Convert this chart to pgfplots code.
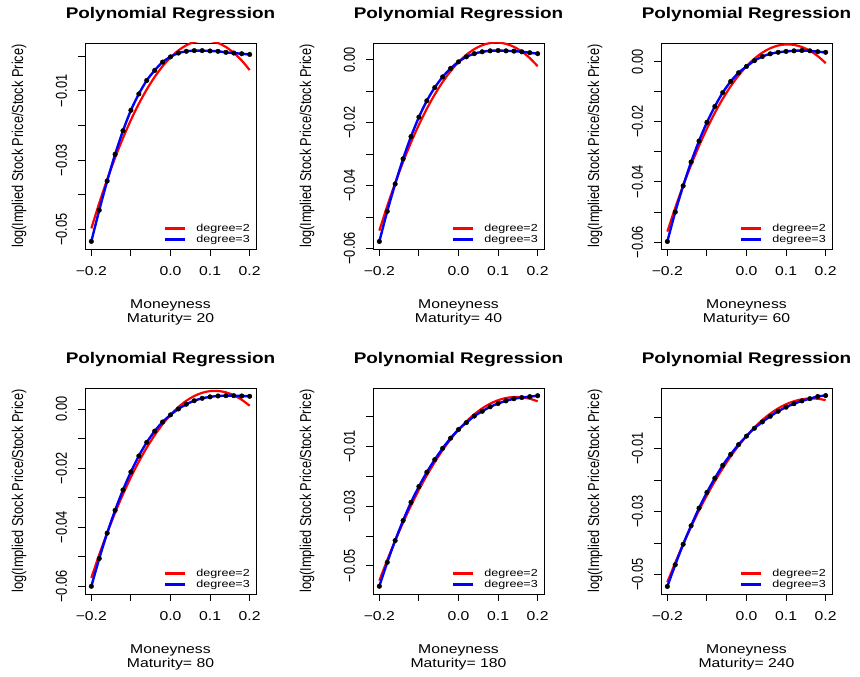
\documentclass[border=0pt]{standalone}
\usepackage{fontspec}
\setmainfont{Liberation Sans}
\usepackage{graphicx}
\usepackage{pgfplots}
\usepackage{pgfplotstable}
\pgfplotsset{compat=1.18}

% the reference is stretched sideways, so stretch horizontal text a little
\newcommand\hs[1]{\scalebox{1.23}[1]{#1}}
\newcommand\vs[1]{\scalebox{1}[1.23]{#1}}
\newcommand\basefont{\fontsize{12.8}{14}\selectfont}

\pgfplotstableread{
x y r
-0.20 -0.0534 -0.04967
-0.18 -0.0444 -0.04236
-0.16 -0.0360 -0.03557
-0.14 -0.0283 -0.02932
-0.12 -0.0215 -0.02359
-0.10 -0.0156 -0.01840
-0.08 -0.0109 -0.01373
-0.06 -0.0070 -0.00960
-0.04 -0.0041 -0.00599
-0.02 -0.0017 -0.00291
0.00 -0.0002 -0.00036
0.02 0.0009 0.00165
0.04 0.0014 0.00314
0.06 0.0016 0.00410
0.08 0.0016 0.00453
0.10 0.0015 0.00443
0.12 0.0014 0.00380
0.14 0.0011 0.00264
0.16 0.0009 0.00096
0.18 0.0007 -0.00126
0.20 0.0005 -0.00401
}\tabA
\pgfplotstableread{
x y r
-0.20 -0.0578 -0.05435
-0.18 -0.0482 -0.04651
-0.16 -0.0395 -0.03922
-0.14 -0.0315 -0.03248
-0.12 -0.0244 -0.02628
-0.10 -0.0182 -0.02064
-0.08 -0.0130 -0.01555
-0.06 -0.0088 -0.01101
-0.04 -0.0054 -0.00702
-0.02 -0.0027 -0.00358
0.00 -0.0006 -0.00068
0.02 0.0010 0.00166
0.04 0.0020 0.00345
0.06 0.0026 0.00470
0.08 0.0029 0.00539
0.10 0.0030 0.00553
0.12 0.0029 0.00513
0.14 0.0028 0.00417
0.16 0.0026 0.00267
0.18 0.0023 0.00061
0.20 0.0020 -0.00200
}\tabB
\pgfplotstableread{
x y r
-0.20 -0.0598 -0.05651
-0.18 -0.0500 -0.04859
-0.16 -0.0413 -0.04120
-0.14 -0.0334 -0.03435
-0.12 -0.0264 -0.02805
-0.10 -0.0202 -0.02228
-0.08 -0.0149 -0.01705
-0.06 -0.0103 -0.01236
-0.04 -0.0066 -0.00821
-0.02 -0.0037 -0.00460
0.00 -0.0016 -0.00153
0.02 0.0003 0.00100
0.04 0.0017 0.00299
0.06 0.0026 0.00445
0.08 0.0031 0.00536
0.10 0.0034 0.00573
0.12 0.0036 0.00557
0.14 0.0037 0.00486
0.16 0.0036 0.00362
0.18 0.0033 0.00184
0.20 0.0031 -0.00049
}\tabC
\pgfplotstableread{
x y r
-0.20 -0.0600 -0.05715
-0.18 -0.0506 -0.04929
-0.16 -0.0420 -0.04196
-0.14 -0.0343 -0.03514
-0.12 -0.0274 -0.02885
-0.10 -0.0213 -0.02307
-0.08 -0.0159 -0.01782
-0.06 -0.0113 -0.01308
-0.04 -0.0075 -0.00887
-0.02 -0.0044 -0.00517
0.00 -0.0020 -0.00200
0.02 0.0000 0.00065
0.04 0.0016 0.00278
0.06 0.0028 0.00439
0.08 0.0036 0.00548
0.10 0.0041 0.00605
0.12 0.0044 0.00610
0.14 0.0045 0.00563
0.16 0.0045 0.00464
0.18 0.0044 0.00312
0.20 0.0043 0.00109
}\tabD
\pgfplotstableread{
x y r
-0.20 -0.0568 -0.05494
-0.18 -0.0488 -0.04804
-0.16 -0.0415 -0.04154
-0.14 -0.0348 -0.03546
-0.12 -0.0287 -0.02979
-0.10 -0.0234 -0.02452
-0.08 -0.0186 -0.01967
-0.06 -0.0144 -0.01523
-0.04 -0.0106 -0.01120
-0.02 -0.0072 -0.00758
0.00 -0.0043 -0.00437
0.02 -0.0020 -0.00158
0.04 0.0002 0.00081
0.06 0.0018 0.00279
0.08 0.0033 0.00435
0.10 0.0044 0.00551
0.12 0.0053 0.00625
0.14 0.0060 0.00658
0.16 0.0064 0.00650
0.18 0.0067 0.00602
0.20 0.0070 0.00512
}\tabE
\pgfplotstableread{
x y r
-0.20 -0.0538 -0.05246
-0.18 -0.0469 -0.04623
-0.16 -0.0404 -0.04035
-0.14 -0.0345 -0.03482
-0.12 -0.0289 -0.02965
-0.10 -0.0239 -0.02482
-0.08 -0.0194 -0.02035
-0.06 -0.0153 -0.01623
-0.04 -0.0118 -0.01245
-0.02 -0.0087 -0.00903
0.00 -0.0060 -0.00596
0.02 -0.0035 -0.00324
0.04 -0.0015 -0.00087
0.06 0.0003 0.00114
0.08 0.0019 0.00281
0.10 0.0032 0.00413
0.12 0.0043 0.00509
0.14 0.0052 0.00571
0.16 0.0059 0.00597
0.18 0.0066 0.00588
0.20 0.0069 0.00544
}\tabF

\pgfplotsset{
  rpanel/.style={
    scale only axis, width=171pt, height=206pt,
    xmin=-0.216, xmax=0.216,
    xtick={-0.2,-0.1,0,0.1,0.2},
    xticklabels={\hs{−0.2},,\hs{0.0},\hs{0.1},\hs{0.2}},
    scaled y ticks=false, scaled x ticks=false,
    tick align=outside, tick pos=left, major tick length=7pt,
    axis line style={line width=0.9pt},
    every tick/.style={black,line width=0.9pt},
    xticklabel style={font=\basefont, anchor=center, yshift=-15pt},
    yticklabel style={font=\basefont, xshift=-16.5pt, rotate=90, anchor=center},
    title={\hs{\bfseries Polynomial Regression}},
    title style={at={(0.5,1.109)}, anchor=center, font=\fontsize{15.4}{18}\selectfont},
    ylabel={\vs{log(Implied Stock Price/Stock Price)}},
    ylabel style={at={(-0.386,0.5)}, anchor=center, font=\basefont},
    xlabel style={at={(0.5,-0.308)}, anchor=center, align=center, font=\basefont},
    legend style={draw=none, fill=none, at={(1,0)}, anchor=south east,
      xshift=-6pt, yshift=5pt, inner sep=0pt, row sep=2pt, column sep=10pt,
      nodes={inner sep=0pt}, font=\fontsize{10.2}{12}\selectfont},
    legend cell align=left,
    legend image code/.code={\draw[#1] (0pt,0pt) -- (20pt,0pt);},
  },
  ticks5/.style={ytick={-0.05,-0.04,-0.03,-0.02,-0.01,0},
    yticklabels={\vs{−0.05},,\vs{−0.03},,\vs{−0.01},}},
  ticks6/.style={ytick={-0.06,-0.05,-0.04,-0.03,-0.02,-0.01,0},
    yticklabels={\vs{−0.06},,\vs{−0.04},,\vs{−0.02},,\vs{0.00}}},
}

\newcommand\rpanel[7]{%
  \begin{axis}[rpanel, at={(#1pt,#2pt)}, anchor=south west,
    ymin=#4, ymax=#5, #7,
    xlabel={\hs{Moneyness}\\\hs{Maturity= #6}}]
    \addplot[only marks, mark=*, mark size=2.3pt, black, forget plot] table[x=x,y=y]{#3};
    \addplot[red, line width=2.2pt, smooth] table[x=x,y=r]{#3};
    \addlegendentry{\hs{degree=2}}
    \addplot[blue, line width=2.4pt, smooth] table[x=x,y=y]{#3};
    \addlegendentry{\hs{degree=3}}
  \end{axis}}

\begin{document}
\begin{tikzpicture}
  \useasboundingbox (0,0) rectangle (860pt,677pt);
  \rpanel{85}{428}{\tabA}{-0.0556}{0.0038}{20}{ticks5}
  \rpanel{373}{428}{\tabB}{-0.0602}{0.0054}{40}{ticks6}
  \rpanel{661}{428}{\tabC}{-0.0623}{0.0062}{60}{ticks6}
  \rpanel{85}{83}{\tabD}{-0.0626}{0.0071}{80}{ticks6}
  \rpanel{373}{83}{\tabE}{-0.0594}{0.0096}{180}{ticks5}
  \rpanel{661}{83}{\tabF}{-0.0562}{0.0093}{240}{ticks5}
\end{tikzpicture}
\end{document}
